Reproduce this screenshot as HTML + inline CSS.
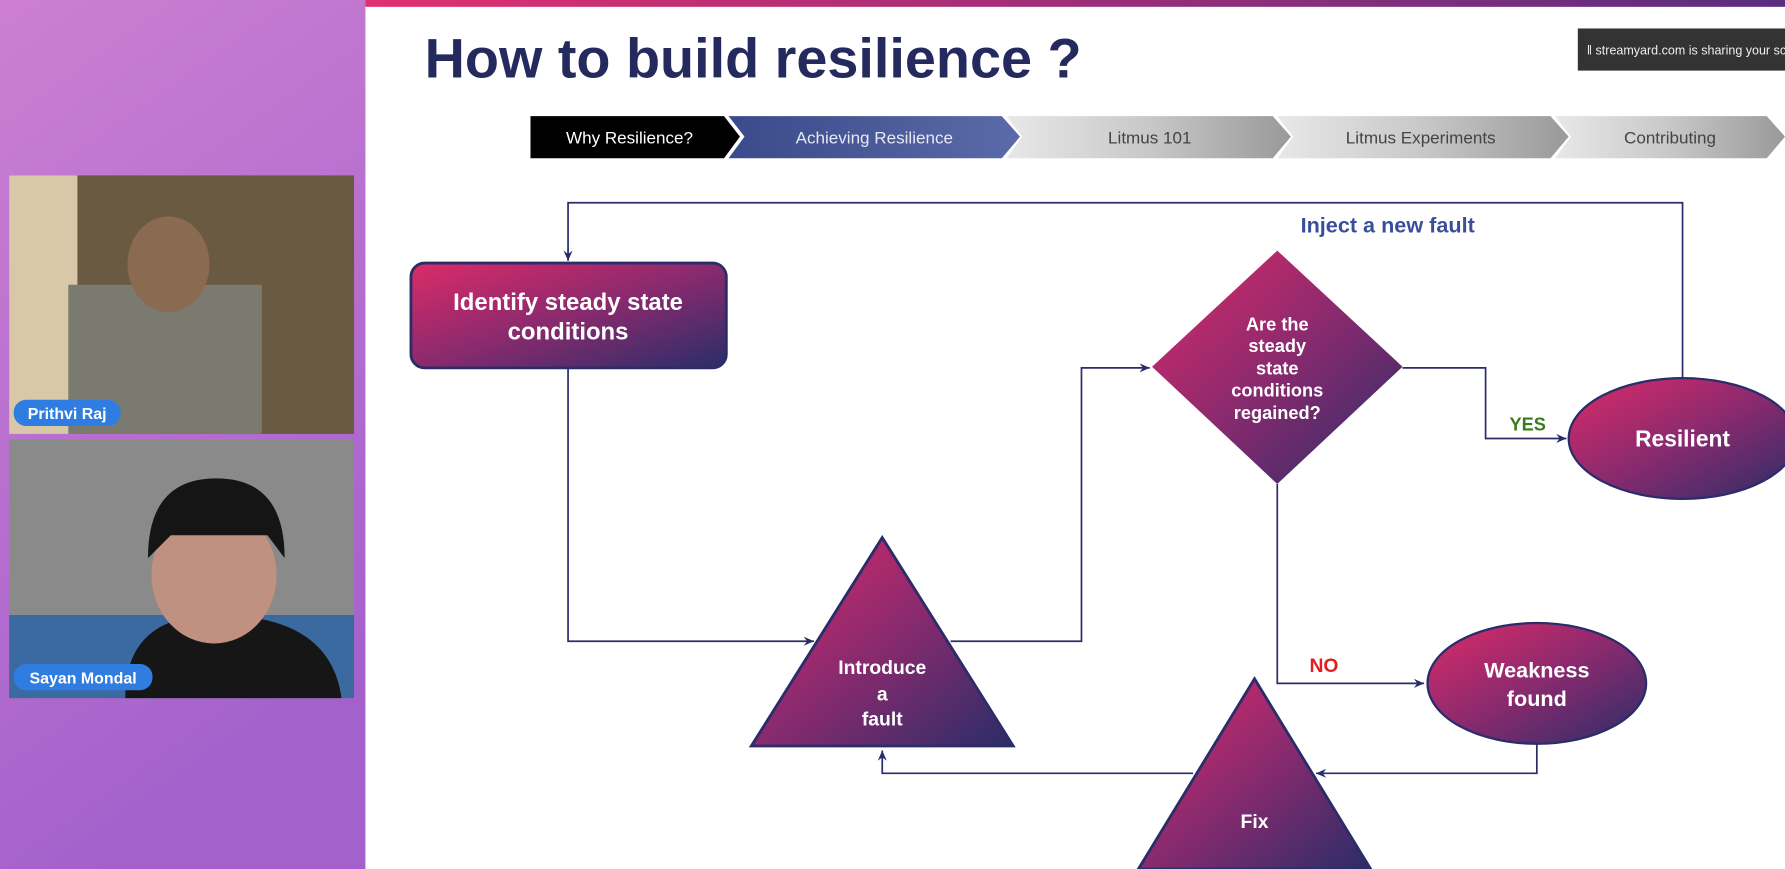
<!DOCTYPE html>
<html><head><style>
html,body{margin:0;padding:0;width:1785px;height:869px;overflow:hidden;background:#fff}
svg{display:block}
text{font-family:"Liberation Sans",sans-serif}
</style></head><body>
<svg width="1785" height="869" viewBox="0 0 1568 763" preserveAspectRatio="none">
<defs>
<linearGradient id="bg" x1="0" y1="0" x2="0.3" y2="1"><stop offset="0" stop-color="#cc7fd2"/><stop offset="1" stop-color="#a461cc"/></linearGradient>
<linearGradient id="sh" x1="0" y1="0" x2="1" y2="1"><stop offset="0" stop-color="#dc2b68"/><stop offset="0.5" stop-color="#8a2a6e"/><stop offset="1" stop-color="#2a2d68"/></linearGradient>
<linearGradient id="top" x1="0" x2="1"><stop offset="0" stop-color="#e03070"/><stop offset="1" stop-color="#5a2d80"/></linearGradient>
<linearGradient id="gr" x1="0" x2="1"><stop offset="0" stop-color="#e8e8e8"/><stop offset="0.5" stop-color="#c8c8c8"/><stop offset="1" stop-color="#999"/></linearGradient>
<linearGradient id="bl" x1="0" x2="1"><stop offset="0" stop-color="#3a4a8a"/><stop offset="1" stop-color="#5b6aa8"/></linearGradient>
<marker id="a" markerWidth="10" markerHeight="10" refX="9" refY="5" orient="auto" markerUnits="userSpaceOnUse"><path d="M0,1 L9,5 L0,9 L3,5Z" fill="#2a2d68"/></marker>
</defs>
<rect x="0" y="0" width="321" height="763" fill="url(#bg)"/>
<rect x="8" y="154" width="303" height="227" fill="#6a5a42"/>
<rect x="8" y="154" width="60" height="227" fill="#d8c8a8"/>
<rect x="60" y="250" width="170" height="131" fill="#7a7a70"/>
<ellipse cx="148" cy="232" rx="36" ry="42" fill="#8a6a50"/>
<rect x="12" y="351" width="94" height="23" rx="11" fill="#2f7de0"/>
<text x="59" y="368" font-size="14" font-weight="bold" fill="#fff" text-anchor="middle">Prithvi Raj</text>
<rect x="8" y="386" width="303" height="227" fill="#8a8a8a"/>
<rect x="8" y="540" width="303" height="73" fill="#3a6aa0"/>
<path d="M110,613 Q110,540 190,540 Q290,540 300,613Z" fill="#161616"/>
<ellipse cx="188" cy="505" rx="55" ry="60" fill="#c09080"/>
<path d="M130,490 Q130,420 190,420 Q250,420 250,490 L235,470 L150,470Z" fill="#151515"/>
<rect x="12" y="583" width="122" height="23" rx="11" fill="#2f7de0"/>
<text x="73" y="600" font-size="14" font-weight="bold" fill="#fff" text-anchor="middle">Sayan Mondal</text>
<rect x="321" y="0" width="1247" height="6" fill="url(#top)"/>
<text x="373" y="68" font-size="49" font-weight="bold" fill="#252a5e">How to build resilience ?</text>
<rect x="1386" y="25" width="182" height="37" fill="#333"/>
<text x="1394" y="48" font-size="11" fill="#eee">‖ streamyard.com is sharing your sc</text>
<path d="M466,102 L636,102 L650,120 L636,139 L466,139Z" fill="#000"/>
<path d="M640,102 L880,102 L896,120 L880,139 L640,139 L654,120Z" fill="url(#bl)"/>
<path d="M884,102 L1118,102 L1134,120 L1118,139 L884,139 L898,120Z" fill="url(#gr)"/>
<path d="M1122,102 L1362,102 L1378,120 L1362,139 L1122,139 L1136,120Z" fill="url(#gr)"/>
<path d="M1366,102 L1552,102 L1568,120 L1552,139 L1366,139 L1380,120Z" fill="url(#gr)"/>
<g font-size="15" text-anchor="middle">
<text x="553" y="126" fill="#fff">Why Resilience?</text>
<text x="768" y="126" fill="#e6e8f4">Achieving Resilience</text>
<text x="1010" y="126" fill="#444">Litmus 101</text>
<text x="1248" y="126" fill="#444">Litmus Experiments</text>
<text x="1467" y="126" fill="#444">Contributing</text>
</g>
<g fill="none" stroke="#2a2d68" stroke-width="1.5">
<path d="M1478,332 V178 H499 V229" marker-end="url(#a)"/>
<path d="M499,323 V563 H715" marker-end="url(#a)"/>
<path d="M835,563 H950 V323 H1010" marker-end="url(#a)"/>
<path d="M1232,323 H1305 V385 H1376" marker-end="url(#a)"/>
<path d="M1122,425 V600 H1251" marker-end="url(#a)"/>
<path d="M1350,653 V679 H1156" marker-end="url(#a)"/>
<path d="M1048,679 H775 V659" marker-end="url(#a)"/>
</g>
<rect x="361" y="231" width="277" height="92" rx="12" fill="url(#sh)" stroke="#2a2d68" stroke-width="2.5"/>
<path d="M1122,220 L1232,322 L1122,425 L1012,322Z" fill="url(#sh)"/>
<ellipse cx="1478" cy="385" rx="100" ry="53" fill="url(#sh)" stroke="#2a2d68" stroke-width="2"/>
<ellipse cx="1350" cy="600" rx="96" ry="53" fill="url(#sh)" stroke="#2a2d68" stroke-width="2"/>
<path d="M775,472 L890,655 L660,655Z" fill="url(#sh)" stroke="#2a2d68" stroke-width="2.5"/>
<path d="M1102,596 L1204,763 L1000,763Z" fill="url(#sh)" stroke="#2a2d68" stroke-width="2.5"/>
<g fill="#fff" font-weight="bold" text-anchor="middle">
<text x="499" y="272" font-size="21">Identify steady state</text>
<text x="499" y="298" font-size="21">conditions</text>
<text x="1122" y="290" font-size="16">Are the</text>
<text x="1122" y="309" font-size="16">steady</text>
<text x="1122" y="329" font-size="16">state</text>
<text x="1122" y="348" font-size="16">conditions</text>
<text x="1122" y="368" font-size="16">regained?</text>
<text x="1478" y="392" font-size="20">Resilient</text>
<text x="1350" y="595" font-size="19">Weakness</text>
<text x="1350" y="620" font-size="19">found</text>
<text x="775" y="592" font-size="17">Introduce</text>
<text x="775" y="615" font-size="17">a</text>
<text x="775" y="637" font-size="17">fault</text>
<text x="1102" y="727" font-size="17">Fix</text>
</g>
<text x="1219" y="204" font-size="19" font-weight="bold" fill="#3a4f9a" text-anchor="middle">Inject a new fault</text>
<text x="1342" y="378" font-size="16" font-weight="bold" fill="#3a7a1a" text-anchor="middle">YES</text>
<text x="1163" y="590" font-size="17" font-weight="bold" fill="#e02020" text-anchor="middle">NO</text>
</svg>
</body></html>
